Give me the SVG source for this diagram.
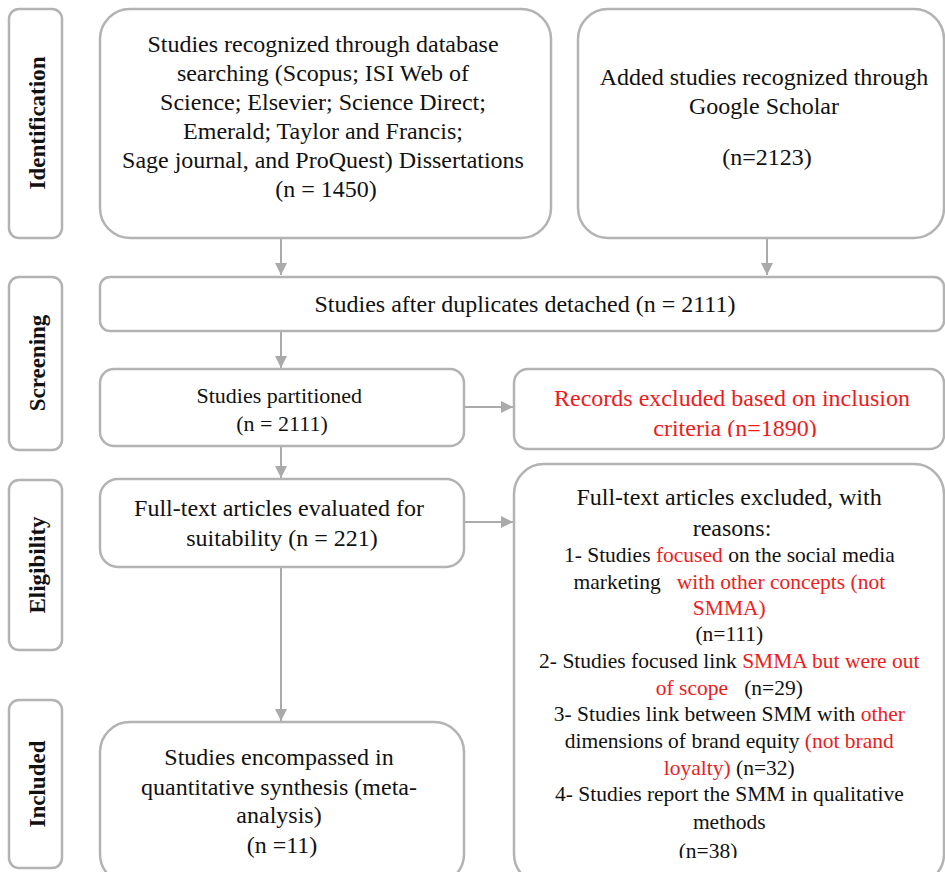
<svg xmlns="http://www.w3.org/2000/svg" width="945" height="872" viewBox="0 0 945 872">
<style>
.box{fill:#fff;stroke:#b3b3b3;stroke-width:2.5}
.t{font-family:"Liberation Serif","Times New Roman",serif;font-size:24px;fill:#111;text-anchor:middle}
.s{font-size:21.5px}
.m{font-size:22px}
.r{fill:#ee1c1c}
.lab{font-family:"Liberation Serif","Times New Roman",serif;font-size:23px;font-weight:bold;fill:#111;text-anchor:middle}
.c{stroke:#aaaaaa;stroke-width:2;fill:none}
</style>
<defs>
<marker id="ah" viewBox="0 0 10 10" refX="10" refY="5" markerWidth="6" markerHeight="6" orient="auto" markerUnits="strokeWidth">
<path d="M0,0 L10,5 L0,10 Z" fill="#aaaaaa"/>
</marker>
<clipPath id="c5"><rect x="514" y="369" width="431" height="68"/></clipPath>
<clipPath id="c7"><rect x="514" y="463" width="431" height="395"/></clipPath>
</defs>
<rect width="945" height="872" fill="#fff"/>

<g id="label-identification">
<rect class="box" x="9" y="9" width="53" height="229" rx="10"/>
<text class="lab" transform="translate(45,123) rotate(-90)">Identification</text>
</g>
<g id="label-screening">
<rect class="box" x="9" y="277" width="53" height="173" rx="10"/>
<text class="lab" transform="translate(45,363) rotate(-90)">Screening</text>
</g>
<g id="label-eligibility">
<rect class="box" x="9" y="480" width="53" height="170" rx="10"/>
<text class="lab" transform="translate(45,565) rotate(-90)">Eligibility</text>
</g>
<g id="label-included">
<rect class="box" x="9" y="700" width="53" height="168" rx="10"/>
<text class="lab" transform="translate(45,784) rotate(-90)">Included</text>
</g>

<g id="connectors">
<line class="c" x1="281" y1="239" x2="281" y2="275" marker-end="url(#ah)"/>
<line class="c" x1="767" y1="239" x2="767" y2="275" marker-end="url(#ah)"/>
<line class="c" x1="281" y1="332" x2="281" y2="368" marker-end="url(#ah)"/>
<line class="c" x1="281" y1="447" x2="281" y2="478" marker-end="url(#ah)"/>
<line class="c" x1="281" y1="568" x2="281" y2="721" marker-end="url(#ah)"/>
<line class="c" x1="465" y1="407" x2="513" y2="407" marker-end="url(#ah)"/>
<line class="c" x1="465" y1="522" x2="513" y2="522" marker-end="url(#ah)"/>
</g>

<g id="node-database">
<rect class="box" x="100" y="9" width="451" height="229" rx="30"/>
<text class="t">
<tspan x="326" y="52">Studies recognized through database</tspan>
<tspan x="326" y="81">searching (Scopus; ISI Web of</tspan>
<tspan x="326" y="110">Science; Elsevier; Science Direct;</tspan>
<tspan x="326" y="139">Emerald; Taylor and Francis;</tspan>
<tspan x="326" y="168">Sage journal, and ProQuest) Dissertations</tspan>
<tspan x="326" y="197">(n = 1450)</tspan>
</text>
</g>

<g id="node-scholar">
<rect class="box" x="578" y="9" width="366" height="229" rx="30"/>
<text class="t">
<tspan x="767" y="85">Added studies recognized through</tspan>
<tspan x="767" y="114">Google Scholar</tspan>
<tspan x="767" y="165">(n=2123)</tspan>
</text>
</g>

<g id="node-duplicates">
<rect class="box" x="100" y="277" width="844" height="54" rx="10"/>
<text class="t" x="525" y="312">Studies after duplicates detached (n = 2111)</text>
</g>

<g id="node-partitioned">
<rect class="box" x="100" y="369" width="364" height="77" rx="14"/>
<text class="t m">
<tspan x="282" y="403">Studies partitioned</tspan>
<tspan x="282" y="431">(n = 2111)</tspan>
</text>
</g>

<g id="node-records-excluded">
<rect class="box" x="514" y="369" width="430" height="80" rx="14"/>
<g clip-path="url(#c5)">
<text class="t r">
<tspan x="735" y="406">Records excluded based on inclusion</tspan>
<tspan x="735" y="436">criteria (n=1890)</tspan>
</text>
</g>
</g>

<g id="node-fulltext-evaluated">
<rect class="box" x="100" y="479" width="364" height="88" rx="18"/>
<text class="t">
<tspan x="282" y="516">Full-text articles evaluated for</tspan>
<tspan x="282" y="546">suitability (n = 221)</tspan>
</text>
</g>

<g id="node-fulltext-excluded">
<rect class="box" x="514" y="464" width="430" height="420" rx="30"/>
<g clip-path="url(#c7)">
<text class="t">
<tspan x="732" y="505">Full-text articles excluded, with</tspan>
<tspan x="732" y="536">reasons:</tspan>
</text>
<text class="t s">
<tspan x="732" y="562">1- Studies <tspan class="r">focused</tspan> on the social media</tspan>
<tspan x="732" y="589">marketing &#160; <tspan class="r">with other concepts (not</tspan></tspan>
<tspan x="732" y="615" class="r">SMMA)</tspan>
<tspan x="732" y="641">(n=111)</tspan>
<tspan x="732" y="668">2- Studies focused link <tspan class="r">SMMA but were out</tspan></tspan>
<tspan x="732" y="695"><tspan class="r">of scope</tspan> &#160; (n=29)</tspan>
<tspan x="732" y="721">3- Studies link between SMM with <tspan class="r">other</tspan></tspan>
<tspan x="732" y="748">dimensions of brand equity <tspan class="r">(not brand</tspan></tspan>
<tspan x="732" y="775"><tspan class="r">loyalty)</tspan> (n=32)</tspan>
<tspan x="732" y="801">4- Studies report the SMM in qualitative</tspan>
<tspan x="732" y="829">methods</tspan>
<tspan x="708" y="858">(n=38)</tspan>
</text>
</g>
</g>

<g id="node-included">
<rect class="box" x="100" y="722" width="364" height="162" rx="30"/>
<text class="t">
<tspan x="282" y="765">Studies encompassed in</tspan>
<tspan x="282" y="795">quantitative synthesis (meta-</tspan>
<tspan x="282" y="823">analysis)</tspan>
<tspan x="282" y="853">(n =11)</tspan>
</text>
</g>
</svg>
